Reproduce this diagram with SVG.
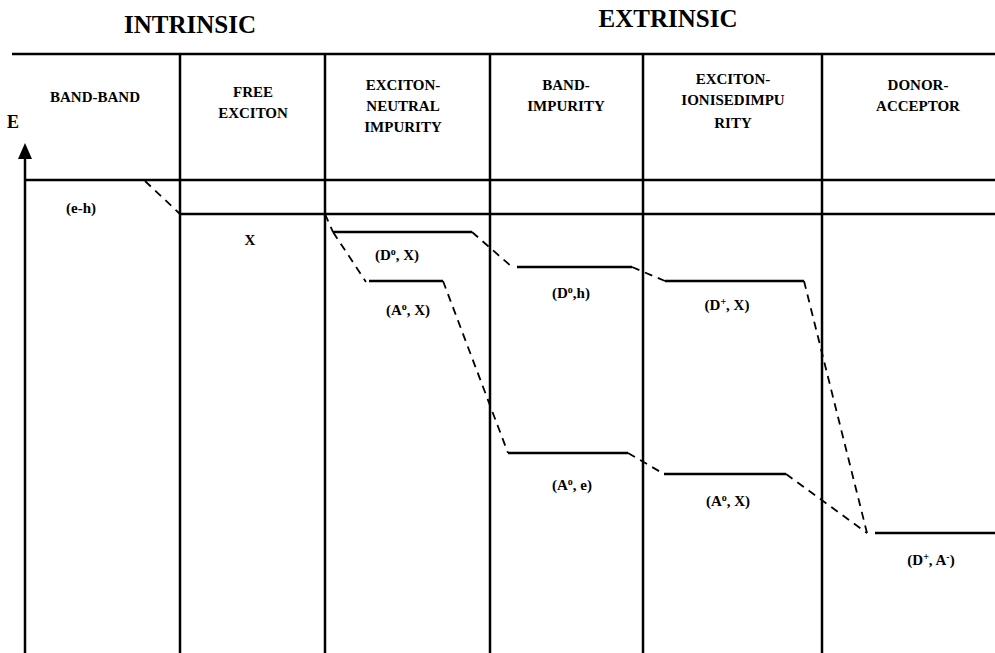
<svg xmlns="http://www.w3.org/2000/svg" width="995" height="653" viewBox="0 0 995 653">
<style>
text{font-family:"Liberation Serif","Times New Roman",serif;font-weight:bold;fill:#000;text-anchor:middle}
.title{font-size:25px}
.hdr{font-size:15px}
.lbl{font-size:15px}
.sup{font-size:10px}
.grid{stroke:#000;stroke-width:2.5;fill:none}
.lvl{stroke:#000;stroke-width:2.5;fill:none}
.dash{stroke:#000;stroke-width:1.8;fill:none;stroke-dasharray:8 6}
</style>
<rect width="995" height="653" fill="#fff"/>
<g id="titles">
<text class="title" x="190" y="33">INTRINSIC</text>
<text class="title" x="668" y="27">EXTRINSIC</text>
</g>
<g id="grid">
<line class="grid" x1="12" y1="54" x2="995" y2="54"/>
<line class="grid" x1="25" y1="180" x2="995" y2="180"/>
<line class="grid" x1="180" y1="214" x2="995" y2="214"/>
<line class="grid" x1="180" y1="54" x2="180" y2="653"/>
<line class="grid" x1="325" y1="54" x2="325" y2="653"/>
<line class="grid" x1="490" y1="54" x2="490" y2="653"/>
<line class="grid" x1="643" y1="54" x2="643" y2="653"/>
<line class="grid" x1="822" y1="54" x2="822" y2="653"/>
</g>
<g id="axis">
<line class="grid" x1="25" y1="155" x2="25" y2="653"/>
<polygon points="25,143 18,159 32,159" fill="#000"/>
<text x="13" y="128" style="font-size:18px">E</text>
</g>
<g id="headers">
<text class="hdr" x="95" y="102">BAND-BAND</text>
<text class="hdr" x="253" y="97">FREE</text>
<text class="hdr" x="253" y="118">EXCITON</text>
<text class="hdr" x="403" y="90">EXCITON-</text>
<text class="hdr" x="403" y="111">NEUTRAL</text>
<text class="hdr" x="403" y="132">IMPURITY</text>
<text class="hdr" x="566" y="90">BAND-</text>
<text class="hdr" x="566" y="111">IMPURITY</text>
<text class="hdr" x="733" y="84">EXCITON-</text>
<text class="hdr" x="733" y="105">IONISEDIMPU</text>
<text class="hdr" x="733" y="128">RITY</text>
<text class="hdr" x="918" y="90">DONOR-</text>
<text class="hdr" x="918" y="111">ACCEPTOR</text>
</g>
<g id="level-eh"><text class="lbl" x="81" y="213">(e-h)</text></g>
<g id="level-X"><text class="lbl" x="250" y="245">X</text></g>
<g id="level-DoX">
<line class="lvl" x1="333" y1="232" x2="472" y2="232"/>
<text class="lbl" x="397" y="260">(D<tspan class="sup" dy="-5">o</tspan><tspan dy="5">, X)</tspan></text>
</g>
<g id="level-AoX-1">
<line class="lvl" x1="369" y1="281" x2="443" y2="281"/>
<text class="lbl" x="408" y="315">(A<tspan class="sup" dy="-5">o</tspan><tspan dy="5">, X)</tspan></text>
</g>
<g id="level-Doh">
<line class="lvl" x1="517" y1="267" x2="632" y2="267"/>
<text class="lbl" x="571" y="298">(D<tspan class="sup" dy="-5">o</tspan><tspan dy="5">,h)</tspan></text>
</g>
<g id="level-DpX">
<line class="lvl" x1="665" y1="281" x2="804" y2="281"/>
<text class="lbl" x="727" y="310">(D<tspan class="sup" dy="-5">+</tspan><tspan dy="5">, X)</tspan></text>
</g>
<g id="level-Aoe">
<line class="lvl" x1="508" y1="453" x2="628" y2="453"/>
<text class="lbl" x="572" y="490">(A<tspan class="sup" dy="-5">o</tspan><tspan dy="5">, e)</tspan></text>
</g>
<g id="level-AoX-2">
<line class="lvl" x1="664" y1="474" x2="786" y2="474"/>
<text class="lbl" x="728" y="506">(A<tspan class="sup" dy="-5">o</tspan><tspan dy="5">, X)</tspan></text>
</g>
<g id="level-DpAm">
<line class="lvl" x1="875" y1="533" x2="995" y2="533"/>
<text class="lbl" x="931" y="565">(D<tspan class="sup" dy="-5">+</tspan><tspan dy="5">, A</tspan><tspan class="sup" dy="-5">-</tspan><tspan dy="5">)</tspan></text>
</g>
<g id="connectors">
<line class="dash" x1="145" y1="181" x2="180" y2="214"/>
<line class="dash" x1="325" y1="214" x2="333" y2="232"/>
<line class="dash" x1="333" y1="232" x2="366" y2="282"/>
<line class="dash" x1="472" y1="232" x2="512" y2="267"/>
<line class="dash" x1="443" y1="281" x2="508" y2="453"/>
<line class="dash" x1="632" y1="267" x2="665" y2="281"/>
<line class="dash" x1="628" y1="453" x2="664" y2="474"/>
<line class="dash" x1="804" y1="281" x2="867" y2="533"/>
<line class="dash" x1="786" y1="474" x2="867" y2="533"/>
</g>
</svg>
